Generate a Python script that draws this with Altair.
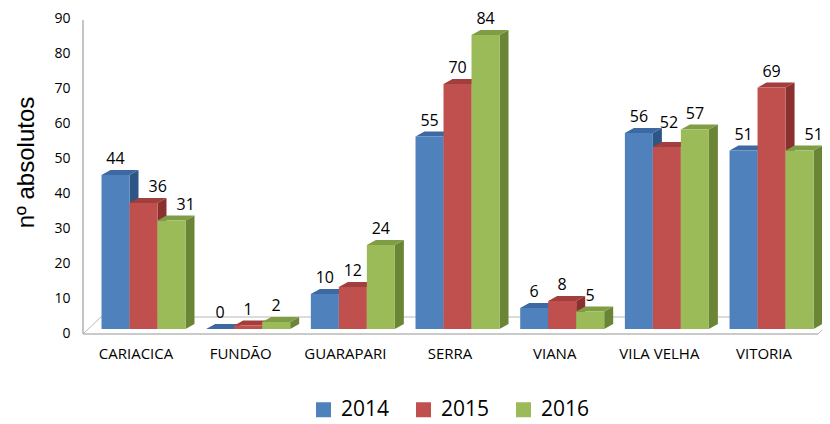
import altair as alt
import pandas as pd

categories = ["CARIACICA", "FUNDÃO", "GUARAPARI", "SERRA", "VIANA", "VILA VELHA", "VITORIA"]
years = ["2014", "2015", "2016"]
v2014 = [44, 0, 10, 55, 6, 56, 51]
v2015 = [36, 1, 12, 70, 8, 52, 69]
v2016 = [31, 2, 24, 84, 5, 57, 51]
y_ticks = list(range(0, 91, 10))

front_colors = ["#4F81BD", "#C0504D", "#9BBB59"]
top_colors = ["#3D68A2", "#A23E3B", "#7E9D45"]
side_colors = ["#2F5486", "#8A302E", "#6A8536"]

# geometry (in category-index units / value units)
BW = 0.2675      # bar width
DX = 0.086       # depth, horizontal
DY = 1.43        # depth, vertical
NUDGE_X = 0.135  # label shift right when hidden behind the previous, taller bar
NUDGE_Y = 2.3    # label shift up when there is no room on the right

fronts, sides, tops = [], [], []
series = [v2014, v2015, v2016]
for i, c in enumerate(categories):
    for j, (yr, vals) in enumerate(zip(years, series)):
        v = vals[i]
        x0 = i + (j - 1.5) * BW
        x1 = x0 + BW
        bid = f"{i}-{j}"
        prev = series[j - 1][i] if j > 0 else None
        nxt = series[j + 1][i] if j < 2 else None
        blocked = prev is not None and prev > v + 3
        walled = nxt is not None and nxt > v + 3
        lx = (x0 + x1) / 2
        ly = v
        if blocked and walled:
            ly = v + NUDGE_Y
            lx += 0.02
        elif blocked:
            lx += NUDGE_X
        fronts.append({"id": bid, "year": yr, "x0": x0, "x1": x1, "lx": lx, "ly": ly, "v": v})
        sides.append({"id": bid, "year": yr, "sx": x1, "lo": 0, "hi": v})
        sides.append({"id": bid, "year": yr, "sx": x1 + DX, "lo": DY, "hi": v + DY})
        tops.append({"id": bid, "year": yr, "ty": v, "l": x0, "r": x1})
        tops.append({"id": bid, "year": yr, "ty": v + DY, "l": x0 + DX, "r": x1 + DX})
df_front = pd.DataFrame(fronts)
df_side = pd.DataFrame(sides)
df_top = pd.DataFrame(tops)

label_expr = "[" + ",".join(f"'{c}'" for c in categories) + "][datum.value]"

xscale = alt.Scale(domain=[-0.578, 6.482], nice=False, zero=False)
yscale = alt.Scale(domain=[0, 90], nice=False)

x_axis = alt.Axis(values=list(range(len(categories))), labelExpr=label_expr, grid=False,
                  domain=False, ticks=False, labelFont="Open Sans", labelFontSize=15,
                  labelColor="#000", labelPadding=17, labelOffset=-8, title=None)
y_axis = alt.Axis(values=y_ticks, grid=False, domain=False, ticks=False,
                  labelFont="Open Sans", labelFontSize=14, labelColor="#000",
                  labelPadding=13, labelOffset=4,
                  title="nº  absolutos", titleFont="Liberation Sans", titleFontSize=24,
                  titleFontWeight="normal", titleColor="#000", titleX=-50, titleY=148,
                  titleBaseline="alphabetic", titleAngle=270)

sides_layer = alt.Chart(df_side).mark_area(orient="vertical").encode(
    x=alt.X("sx:Q", scale=xscale, axis=x_axis),
    y=alt.Y("lo:Q", scale=yscale, axis=y_axis, stack=None),
    y2="hi:Q",
    detail="id:N",
    color=alt.Color("year:N", scale=alt.Scale(domain=years, range=side_colors), legend=None),
)
tops_layer = alt.Chart(df_top).mark_area(orient="horizontal").encode(
    y=alt.Y("ty:Q", scale=yscale, axis=y_axis),
    x=alt.X("l:Q", scale=xscale, axis=x_axis, stack=None),
    x2="r:Q",
    detail="id:N",
    color=alt.Color("year:N", scale=alt.Scale(domain=years, range=top_colors), legend=None),
)
front_layer = alt.Chart(df_front).mark_rect().encode(
    x=alt.X("x0:Q", scale=xscale, axis=x_axis),
    x2="x1:Q",
    y=alt.Y("v:Q", scale=yscale, axis=y_axis),
    y2=alt.Y2(datum=0),
    color=alt.Color("year:N", scale=alt.Scale(domain=years, range=front_colors),
                    legend=alt.Legend(title=None, orient="none", direction="horizontal",
                                      legendX=230, legendY=385, padding=0,
                                      symbolType="square", symbolSize=225,
                                      symbolStrokeWidth=0, labelFontSize=21,
                                      labelFont="Open Sans", labelColor="#000",
                                      labelOffset=7, columnPadding=23)),
)
text_layer = alt.Chart(df_front).mark_text(dy=-11, baseline="alphabetic", fontSize=16,
                                          font="Open Sans", color="#000").encode(
    x=alt.X("lx:Q", scale=xscale, axis=x_axis),
    y=alt.Y("ly:Q", scale=yscale, axis=y_axis),
    text="v:Q",
)

frame_df = pd.DataFrame({"k": [0]})
wall = alt.Chart(frame_df).mark_rule(color="#B0B0B0", strokeWidth=1.5).encode(
    x=alt.value(0), y=alt.value(6), y2=alt.value(320))
floor_front = alt.Chart(frame_df).mark_rule(color="#B8B8B8", strokeWidth=1.5).encode(
    x=alt.value(0), x2=alt.value(735), y=alt.value(320))
floor_back = alt.Chart(frame_df).mark_rule(color="#B8B8B8", strokeWidth=1).encode(
    x=alt.value(18), x2=alt.value(739), y=alt.value(303))
floor_left = alt.Chart(frame_df).mark_rule(color="#B8B8B8", strokeWidth=1).encode(
    x=alt.value(0), x2=alt.value(18), y=alt.value(320), y2=alt.value(303))
floor_right = alt.Chart(frame_df).mark_rule(color="#B8B8B8", strokeWidth=1).encode(
    x=alt.value(735), x2=alt.value(739), y=alt.value(320), y2=alt.value(316))

chart = alt.layer(
    wall, floor_back, floor_left, floor_front, floor_right,
    sides_layer, tops_layer, front_layer, text_layer
).resolve_scale(color="independent").properties(
    width=739, height=315,
    autosize=alt.AutoSizeParams(type="none"),
    padding={"left": 75, "top": 6, "right": 0, "bottom": 95},
).configure(background="white").configure_view(stroke=None)

chart.save("out.html", embed_options={"renderer": "svg", "actions": False})
